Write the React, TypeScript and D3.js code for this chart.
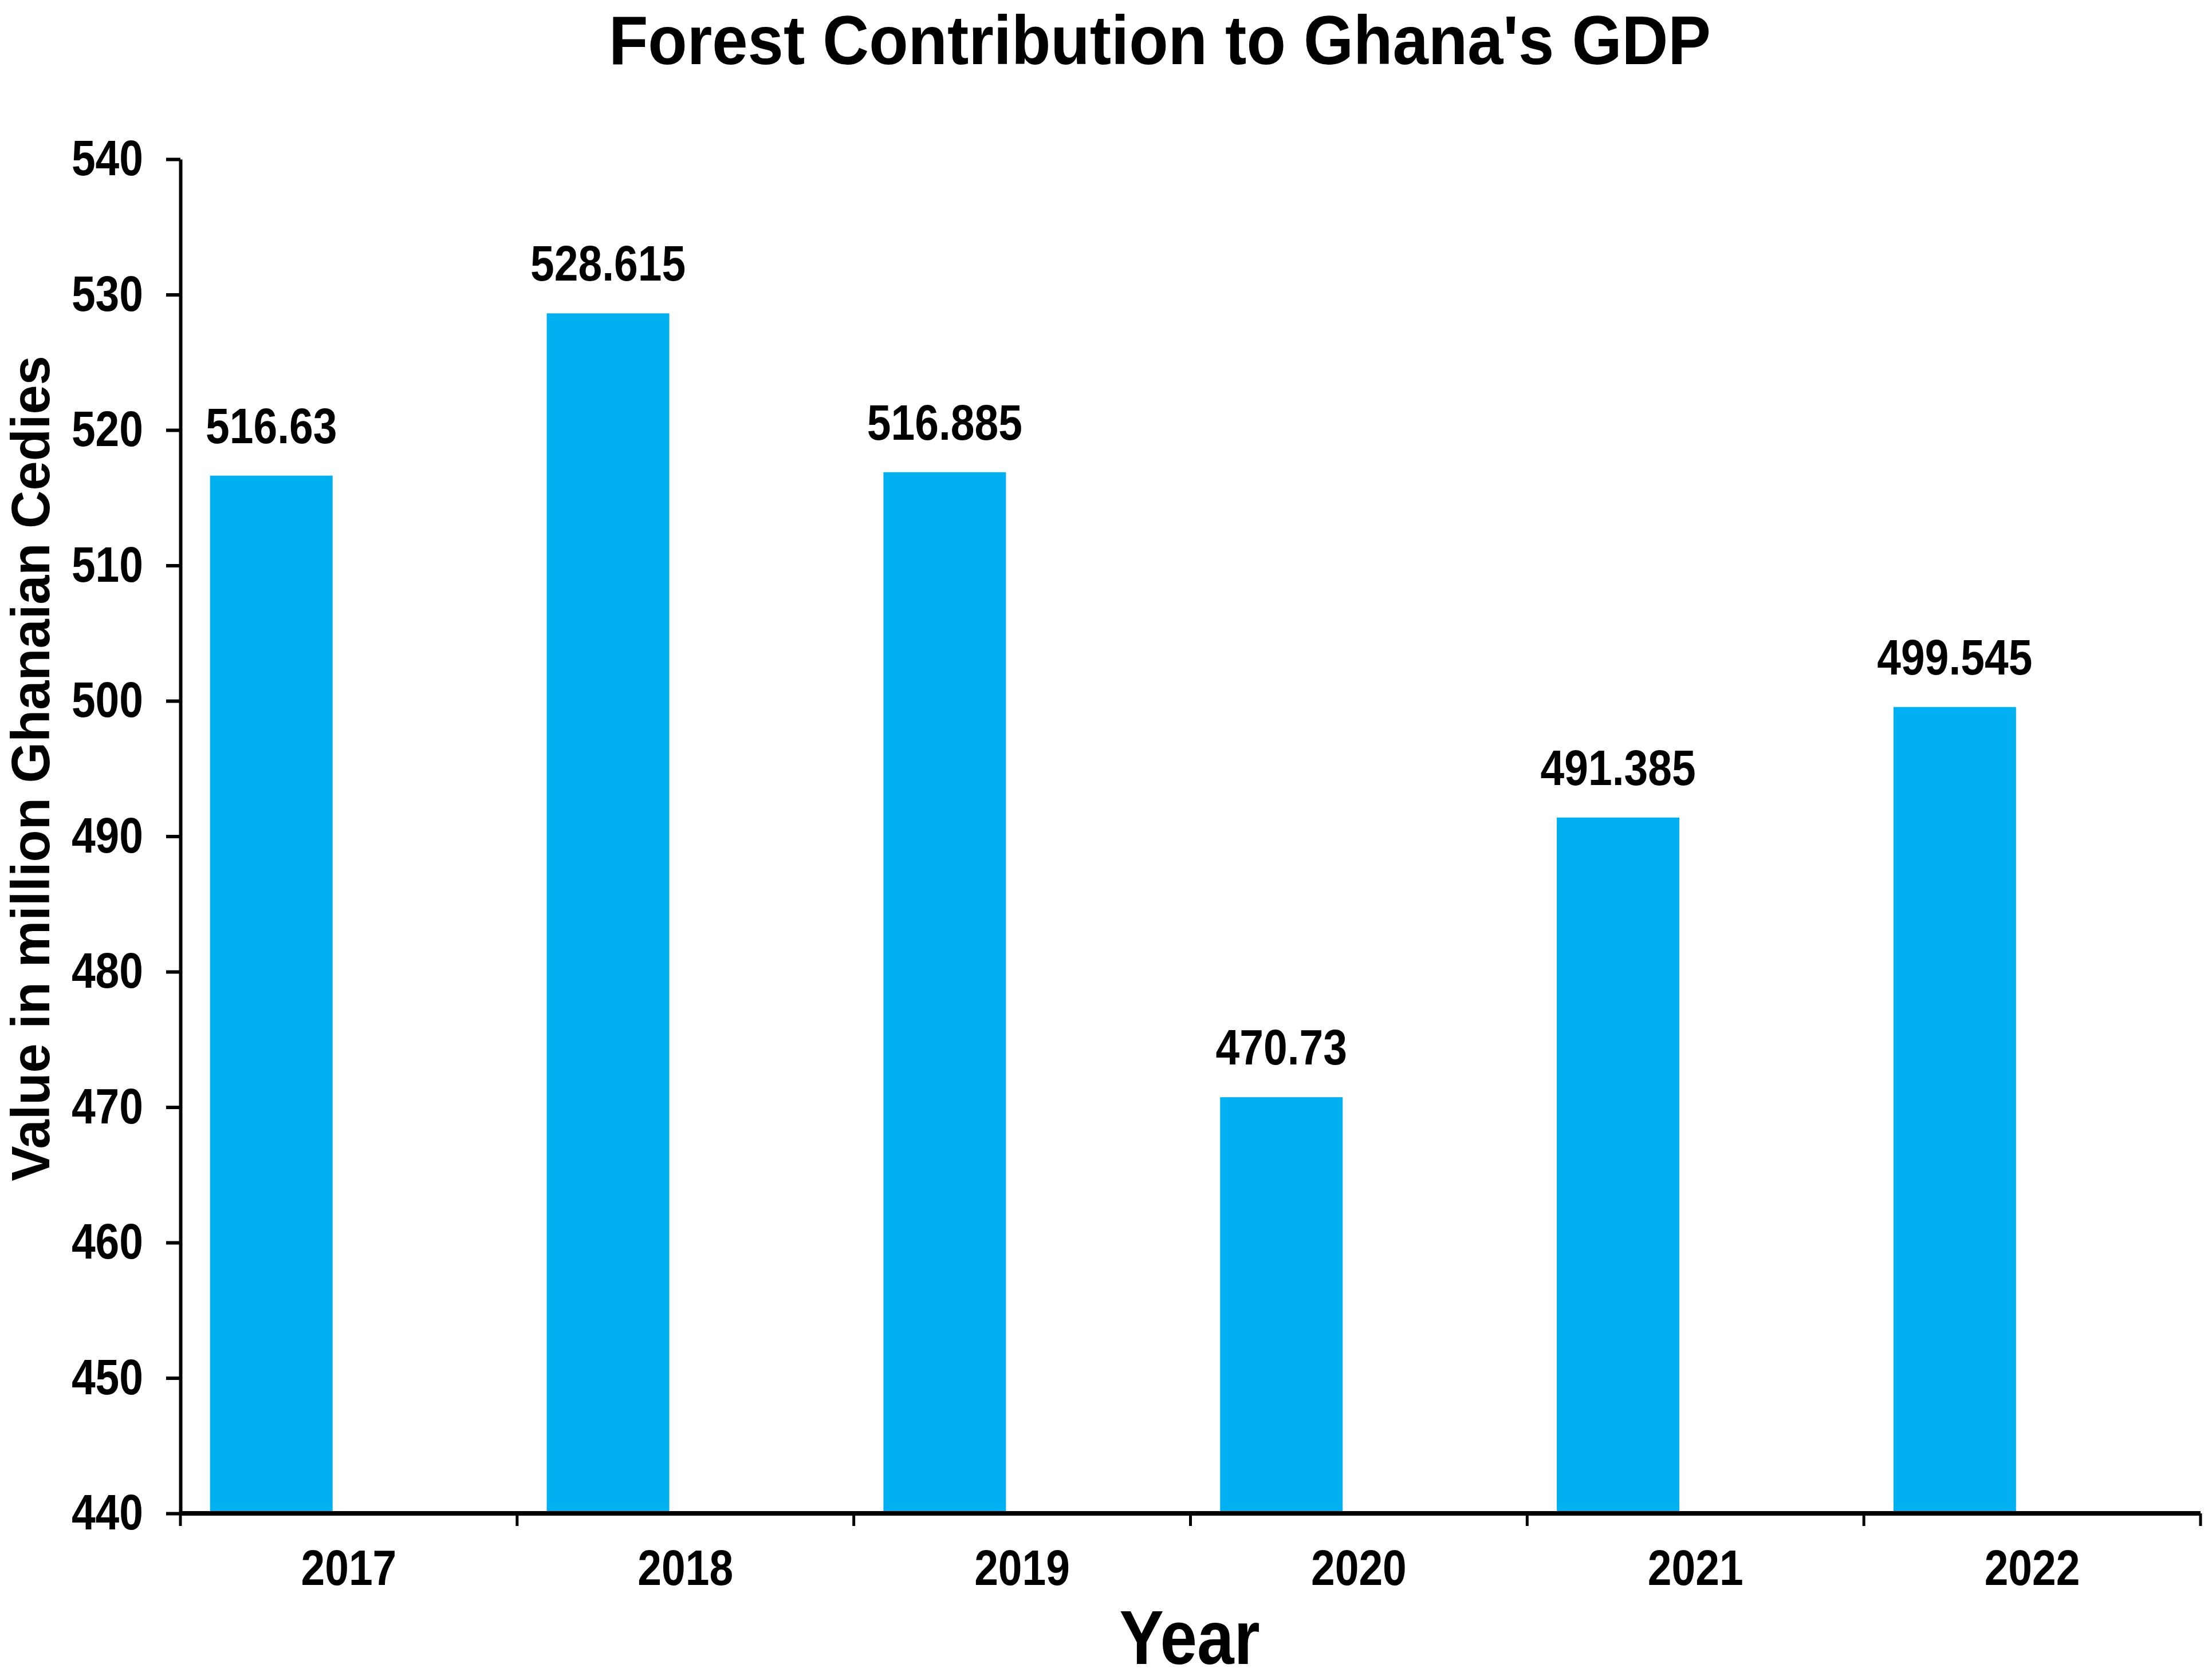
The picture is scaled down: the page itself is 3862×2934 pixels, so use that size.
import { useEffect, useRef } from "react";
import * as d3 from "d3";

// Chart data
const years = ["2017", "2018", "2019", "2020", "2021", "2022"];
const values = [516.63, 528.615, 516.885, 470.73, 491.385, 499.545];
const valueLabels = ["516.63", "528.615", "516.885", "470.73", "491.385", "499.545"];
const yTicks = [440, 450, 460, 470, 480, 490, 500, 510, 520, 530, 540];

const WIDTH = 3862;
const HEIGHT = 2934;
const FONT = "'Liberation Sans', Arial, Helvetica, sans-serif";
const STRETCH = 1.15; // the source text is a little taller than Arial

export default function App() {
    const svgRef = useRef<SVGSVGElement | null>(null);

    useEffect(() => {
        if (!svgRef.current) return;
        document.body.style.margin = "0";

        const svg = d3.select(svgRef.current);
        svg.selectAll("*").remove();

        const left = 315;
        const right = 3842;
        const top = 278;
        const bottom = 2643;

        const x = d3.scaleBand<string>().domain(years).range([left, right]);
        const y = d3.scaleLinear().domain([440, 540]).range([bottom, top]);
        const bw = x.bandwidth();
        const barOffset = bw * 0.088;
        const barWidth = bw * 0.364;

        svg.append("rect")
            .attr("width", WIDTH)
            .attr("height", HEIGHT)
            .attr("fill", "#ffffff");

        // Title
        svg.append("text")
            .attr("transform", `translate(2025,112) scale(1,1.07)`)
            .attr("text-anchor", "middle")
            .attr("font-family", FONT)
            .attr("font-weight", "bold")
            .attr("font-size", 112)
            .attr("fill", "#000")
            .text("Forest Contribution to Ghana's GDP");

        // Bars
        svg.append("g")
            .selectAll("rect")
            .data(years)
            .enter()
            .append("rect")
            .attr("x", (d) => (x(d) as number) + barOffset)
            .attr("y", (d, i) => y(values[i]))
            .attr("width", barWidth)
            .attr("height", (d, i) => bottom - y(values[i]))
            .attr("fill", "#00B0F0");

        // Value labels
        svg.append("g")
            .selectAll("text")
            .data(years)
            .enter()
            .append("text")
            .attr(
                "transform",
                (d, i) =>
                    `translate(${(x(d) as number) + barOffset + barWidth / 2},${y(values[i]) - 57}) scale(1,${STRETCH})`
            )
            .attr("text-anchor", "middle")
            .attr("font-family", FONT)
            .attr("font-weight", "bold")
            .attr("font-size", 75)
            .attr("fill", "#000")
            .text((d, i) => valueLabels[i]);

        // Y axis
        const yAxis = svg
            .append("g")
            .attr("transform", `translate(${left},0)`)
            .call(
                d3
                    .axisLeft(y)
                    .tickValues(yTicks)
                    .tickSize(25)
                    .tickSizeOuter(0)
                    .tickPadding(40)
                    .tickFormat(d3.format("d"))
            );
        yAxis.select(".domain").attr("stroke", "#000").attr("stroke-width", 6);
        yAxis.selectAll(".tick line").attr("stroke", "#000").attr("stroke-width", 6);
        yAxis
            .selectAll(".tick text")
            .attr("transform", `scale(1,${STRETCH})`)
            .attr("font-family", FONT)
            .attr("font-weight", "bold")
            .attr("font-size", 75)
            .attr("fill", "#000");

        // X axis with ticks at band boundaries
        const xAxis = svg.append("g");
        xAxis
            .append("line")
            .attr("x1", left)
            .attr("x2", right)
            .attr("y1", bottom)
            .attr("y2", bottom)
            .attr("stroke", "#000")
            .attr("stroke-width", 8);
        const edges = years.map((d) => x(d) as number).concat([right]);
        xAxis
            .selectAll(".edge")
            .data(edges)
            .enter()
            .append("line")
            .attr("x1", (d) => d)
            .attr("x2", (d) => d)
            .attr("y1", bottom)
            .attr("y2", bottom + 22)
            .attr("stroke", "#000")
            .attr("stroke-width", 5);
        xAxis
            .selectAll(".lbl")
            .data(years)
            .enter()
            .append("text")
            .attr("transform", (d) => `translate(${(x(d) as number) + bw / 2},2768) scale(1,${STRETCH})`)
            .attr("text-anchor", "middle")
            .attr("font-family", FONT)
            .attr("font-weight", "bold")
            .attr("font-size", 75)
            .attr("fill", "#000")
            .text((d) => d);

        // Axis titles
        svg.append("text")
            .attr("transform", `translate(2077,2906) scale(1,${STRETCH})`)
            .attr("text-anchor", "middle")
            .attr("font-family", FONT)
            .attr("font-weight", "bold")
            .attr("font-size", 116)
            .attr("fill", "#000")
            .text("Year");

        svg.append("text")
            .attr("transform", `translate(86,1342) rotate(-90) scale(1,1.03)`)
            .attr("text-anchor", "middle")
            .attr("font-family", FONT)
            .attr("font-weight", "bold")
            .attr("font-size", 92)
            .attr("fill", "#000")
            .text("Value in million Ghanaian Cedies");
    }, []);

    return <svg ref={svgRef} width={WIDTH} height={HEIGHT} style={{ display: "block" }} />;
}
